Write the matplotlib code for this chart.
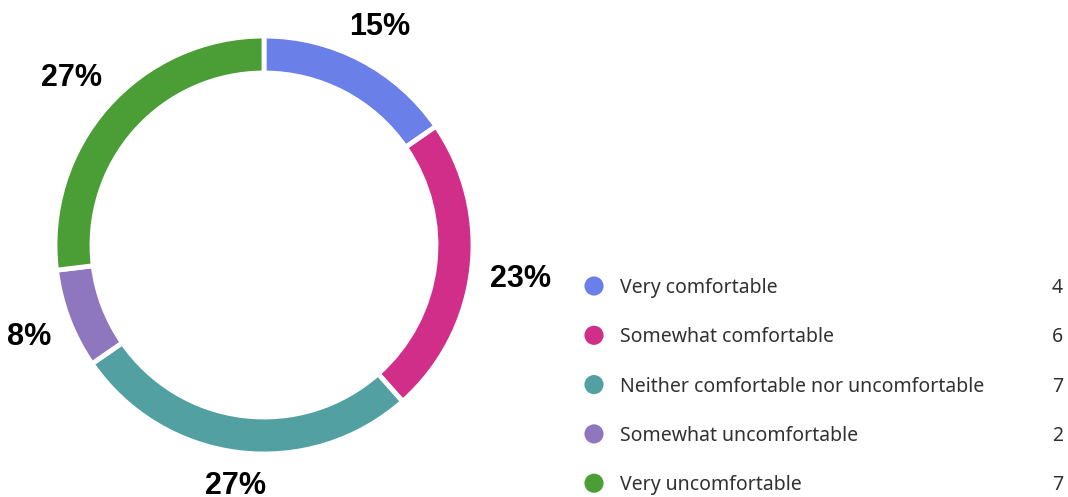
import matplotlib.pyplot as plt
import numpy as np

categories = ["Very comfortable", "Somewhat comfortable",
              "Neither comfortable nor uncomfortable",
              "Somewhat uncomfortable", "Very uncomfortable"]
counts = [4, 6, 7, 2, 7]
colors = ["#6A7FE8", "#D12E8A", "#52A0A2", "#8E77BE", "#4A9E35"]

W, H = 1068, 497
fig = plt.figure(figsize=(W / 100, H / 100), dpi=100)
ax = fig.add_axes([0, 0, 1, 1])
ax.set_xlim(0, W)
ax.set_ylim(0, H)
ax.set_aspect("equal")

# donut, drawn in pixel units
cx, cy, R, ring = 264, 252, 209, 37
wedges, _ = ax.pie(counts, colors=colors, center=(cx, cy), radius=R,
                   startangle=90, counterclock=False,
                   wedgeprops=dict(width=ring, edgecolor="white", linewidth=3.5))
ax.set_xlim(0, W)
ax.set_ylim(0, H)

# percentage labels: the nearest point of each text box sits at distance D
total = sum(counts)
cum = np.cumsum([0] + counts)
D, cap = 227, 22
renderer = fig.canvas.get_renderer()
for i, c in enumerate(counts):
    mid = (cum[i] + c / 2) / total * 2 * np.pi
    s = f"{round(100 * c / total)}%"
    t = ax.text(0, 0, s, ha="center", va="baseline",
                fontsize=22, fontweight="bold", family="Liberation Sans", color="black")
    hw, hh = t.get_window_extent(renderer).width / 2, cap / 2
    ux, uy = np.sin(mid), np.cos(mid)
    lr = D
    for _ in range(30):
        x, y = lr * ux, lr * uy
        dist = np.hypot(max(abs(x) - hw, 0), max(abs(y) - hh, 0))
        lr += D - dist
    t.set_position((cx + lr * ux, cy + lr * uy - hh))

# legend with counts
row0, step = H - 288, 49.3
for i, (lab, c, col) in enumerate(zip(categories, counts, colors)):
    y = row0 - i * step
    ax.scatter([594], [y + 2], s=190, color=col, edgecolors="none")
    ax.text(620, y, lab, ha="left", va="center", fontsize=14,
            family="Noto Sans", color="#323130")
    ax.text(1063, y, str(c), ha="right", va="center", fontsize=14,
            family="Noto Sans", color="#323130")

ax.axis("off")

fig.savefig("out.png", dpi=100)
